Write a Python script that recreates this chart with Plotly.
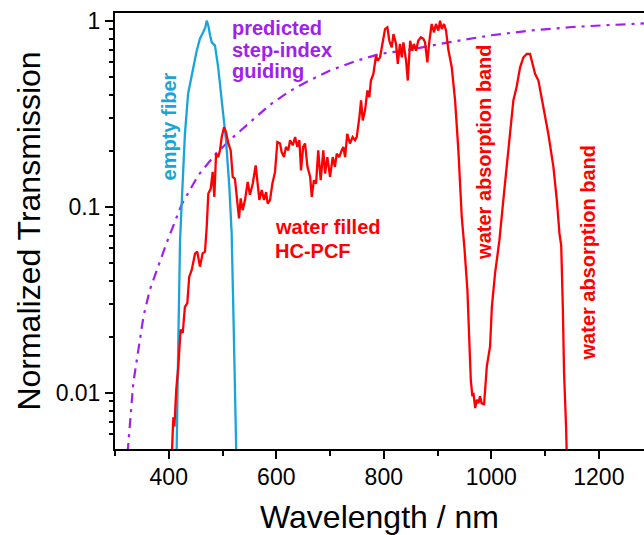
import numpy as np
import plotly.graph_objects as go

# ---- data ----
red_nm = [403, 405.4, 408.5, 410.5, 414, 417.8, 422, 426, 430, 434.5, 438, 442.7, 448.8, 453, 458, 463, 467.4,
          470.6, 473.6, 478, 481.7, 484.8, 488, 492, 495.3, 498.5, 502.8, 506.5, 510.9, 515.2, 519, 523, 526.4,
          530.7, 533.8, 537.5, 541.9, 546.8, 551, 556.2, 561.7, 565.4, 568.5, 572.9, 577.2, 581, 584, 588.4,
          592.7, 597.7, 602, 607, 610, 614.4, 618, 622.4, 625.6, 630.6, 635, 639, 643, 646, 650, 653.5, 658,
          663, 666, 670, 674, 678, 682.6, 687.5, 690.7, 695, 700, 705, 709, 712.5, 717, 721.7, 724.7, 728, 732,
          737, 742, 746.5, 749.6, 754.6, 757.7, 760.8, 765, 769.5, 773, 776, 780.6, 785.6, 788.7, 793, 798,
          802.3, 806.6, 810.3, 814.7, 818, 822.8, 826, 830, 833.5, 836.5, 841.4, 844.6, 849, 853, 856, 860, 864,
          869, 873.6, 876.7, 881, 884.8, 889, 893.5, 897, 901.5, 904.6, 907.8, 912, 915.8, 920, 926.4, 932.6,
          938.7, 942, 945, 950, 955.5, 959, 961.8, 964.8, 966.7, 970, 973, 976, 979, 982, 986.5, 989, 991.6,
          997.7, 1001, 1007, 1011.6, 1015, 1022.4, 1031.7, 1041, 1047, 1053.5, 1059.7, 1066, 1072, 1077, 1081.4,
          1087.6, 1097, 1106, 1115.5, 1121.8, 1126.7, 1130, 1133, 1135.3, 1139, 1140.4, 1142]
red_T = [0.003, 0.005, 0.0074, 0.0066, 0.0105, 0.0139, 0.0219, 0.021, 0.029, 0.0304, 0.042, 0.0458, 0.056, 0.0574,
         0.0477, 0.0562, 0.0574, 0.078, 0.118, 0.125, 0.154, 0.113, 0.193, 0.185, 0.201, 0.237, 0.268, 0.252,
         0.219, 0.201, 0.145, 0.142, 0.118, 0.0867, 0.111, 0.096, 0.109, 0.136, 0.116, 0.133, 0.167, 0.133,
         0.109, 0.123, 0.109, 0.120, 0.104, 0.109, 0.133, 0.154, 0.223, 0.219, 0.197, 0.185, 0.21, 0.201, 0.228,
         0.214, 0.237, 0.21, 0.228, 0.157, 0.21, 0.219, 0.164, 0.145, 0.113, 0.139, 0.133, 0.201, 0.139, 0.201,
         0.151, 0.185, 0.145, 0.185, 0.164, 0.193, 0.185, 0.201, 0.21, 0.185, 0.247, 0.219, 0.237, 0.228, 0.237,
         0.303, 0.373, 0.291, 0.329, 0.422, 0.388, 0.477, 0.518, 0.65, 0.61, 0.636, 0.78, 0.902, 0.921, 0.78,
         0.72, 0.848, 0.75, 0.586, 0.75, 0.636, 0.765, 0.61, 0.477, 0.78, 0.69, 0.75, 0.69, 0.78, 0.814, 0.80,
         0.765, 0.598, 0.78, 0.96, 0.866, 0.96, 0.884, 1.0, 0.902, 0.96, 0.884, 0.70, 0.562, 0.373, 0.201,
         0.133, 0.0884, 0.06, 0.0358, 0.0193, 0.0118, 0.0096, 0.010, 0.0083, 0.0092, 0.0088, 0.0096, 0.0088,
         0.0087, 0.0109, 0.0139, 0.0178, 0.029, 0.044, 0.054, 0.066, 0.109, 0.201, 0.373, 0.44, 0.562, 0.636,
         0.663, 0.663, 0.586, 0.518, 0.477, 0.343, 0.247, 0.164, 0.109, 0.072, 0.062, 0.029, 0.0128, 0.0066,
         0.005, 0.003]

blue_nm = [412, 414.7, 417.8, 421, 424, 430, 436, 442.6, 445.7, 452, 458, 464, 468, 470.6, 473.6, 477, 480,
           486, 492, 498.5, 506.5, 512.7, 517, 520, 525, 527]
blue_T = [0.003, 0.005, 0.0193, 0.066, 0.103, 0.245, 0.405, 0.518, 0.56, 0.69, 0.80, 0.866, 0.92, 1.0, 0.94,
          0.83, 0.765, 0.735, 0.56, 0.373, 0.228, 0.128, 0.072, 0.029, 0.005, 0.003]

purple_nm = [318, 324, 334, 353, 365, 384, 396, 424, 455, 489, 520, 560, 592, 626, 660, 700, 750, 793, 850,
             920, 1000, 1072, 1150, 1220, 1285]
purple_T = [0.0035, 0.005, 0.0113, 0.0258, 0.036, 0.052, 0.064, 0.103, 0.148, 0.195, 0.237, 0.30, 0.36, 0.42,
            0.475, 0.54, 0.61, 0.663, 0.70, 0.765, 0.835, 0.885, 0.925, 0.948, 0.967]

x_ticks = [400, 600, 800, 1000, 1200]
x_minor = [300, 500, 700, 900, 1100]
y_ticks = [0.01, 0.1, 1]
y_ticktext = ["0.01", "0.1", "1"]
y_minor = [0.006, 0.007, 0.008, 0.009, 0.02, 0.03, 0.04, 0.05, 0.06, 0.07, 0.08, 0.09,
           0.2, 0.3, 0.4, 0.5, 0.6, 0.7, 0.8, 0.9]

RED = "#FF0000"
BLUE = "#19A5D9"
PURPLE = "#A020F0"
FONT = "Liberation Sans, Arial, sans-serif"

fig = go.Figure()
fig.add_trace(go.Scatter(x=purple_nm, y=purple_T, mode="lines",
                         line=dict(color=PURPLE, width=2.2, dash="10px,6px,3px,6px"), showlegend=False))
fig.add_trace(go.Scatter(x=blue_nm, y=blue_T, mode="lines",
                         line=dict(color=BLUE, width=2.3), showlegend=False))
fig.add_trace(go.Scatter(x=red_nm, y=red_T, mode="lines",
                         line=dict(color=RED, width=2.3), showlegend=False))

def ann(text, x, ylog, color, angle=0, xanchor="center"):
    fig.add_annotation(x=x, y=ylog, xref="x", yref="y", text="<b>" + text + "</b>", showarrow=False,
                       textangle=angle, xanchor=xanchor, yanchor="middle",
                       font=dict(family=FONT, size=20, color=color))

ann("predicted", 514, -0.0375, PURPLE, xanchor="left")
ann("step-index", 514, -0.155, PURPLE, xanchor="left")
ann("guiding", 514, -0.268, PURPLE, xanchor="left")
ann("empty fiber", 400.5, -0.568, BLUE, angle=-90)
ann("water filled", 594, -1.109, RED, xanchor="left")
ann("HC-PCF", 594, -1.237, RED, xanchor="left")
ann("water absorption band", 986.5, -0.71, RED, angle=-90)
ann("water absorption band", 1180, -1.25, RED, angle=-90)

fig.update_layout(
    width=644, height=535,
    margin=dict(l=115, r=0, t=13, b=86),
    plot_bgcolor="white", paper_bgcolor="white",
    font=dict(family=FONT, color="black"),
    xaxis=dict(range=[300, 1284], showline=True, linecolor="black", linewidth=2, mirror=True,
               showgrid=False, zeroline=False, ticks="outside", ticklen=8, tickwidth=2, tickcolor="black",
               tickvals=x_ticks, tickfont=dict(size=23, family=FONT), ticklabelstandoff=-2,
               minor=dict(tickvals=x_minor, ticks="outside", ticklen=5, tickwidth=2, tickcolor="black",
                          showgrid=False),
               title=dict(text="Wavelength / nm", font=dict(size=32, family=FONT), standoff=22)),
    yaxis=dict(type="log", range=[np.log10(0.005), np.log10(1.1)], showline=True, linecolor="black",
               linewidth=2, showgrid=False, zeroline=False, ticks="outside", ticklen=8, tickwidth=2,
               tickcolor="black", tickvals=y_ticks, ticktext=y_ticktext, tickfont=dict(size=23, family=FONT),
               minor=dict(tickvals=y_minor, ticks="outside", ticklen=4, tickwidth=2, tickcolor="black",
                          showgrid=False),
               title=dict(text="Normalized Transmission", font=dict(size=32, family=FONT), standoff=5)),
)

fig.write_html("out.html", config={"displayModeBar": False},
               post_script="document.body.style.margin='0';document.body.style.overflow='hidden';")
